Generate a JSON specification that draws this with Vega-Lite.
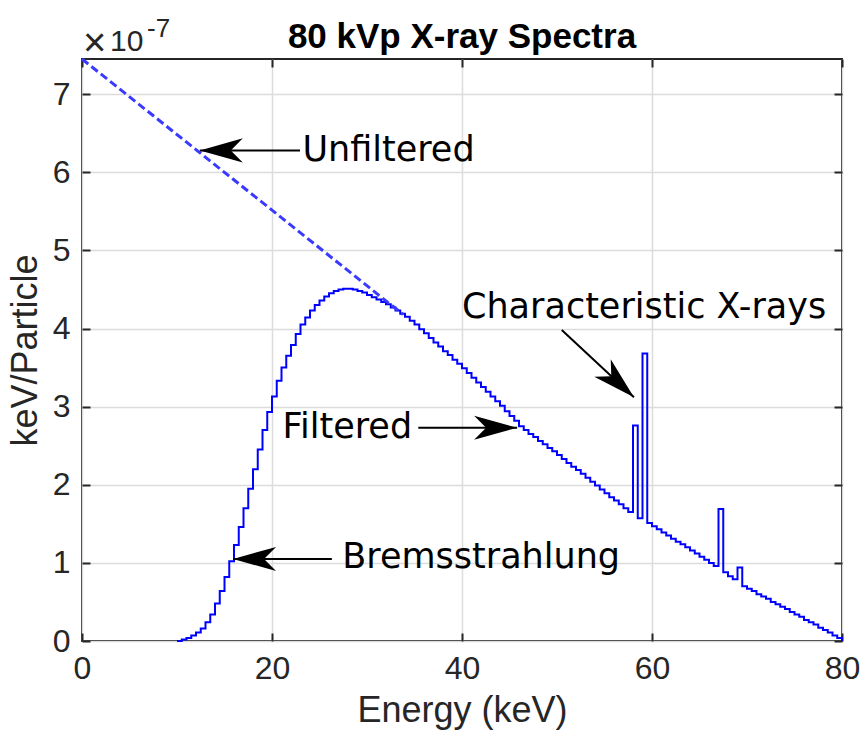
{
  "$schema": "https://vega.github.io/schema/vega-lite/v6.json",
  "width": 760,
  "height": 582,
  "autosize": {"type": "none"},
  "padding": {"left": 82, "top": 59, "right": 20, "bottom": 95},
  "background": "white",
  "config": {"view": {"stroke": "#262626", "strokeWidth": 2}, "font": "Liberation Sans"},
  "title": {"text": "80 kVp X-ray Spectra", "fontSize": 35, "fontWeight": "bold", "font": "Liberation Sans", "color": "#000000", "anchor": "middle", "frame": "group", "offset": -39},
  "datasets": {
    "filtered": [
      {"E":10.0,"v":0},{"E":10.5,"v":0.02},{"E":11.0,"v":0.04},{"E":11.5,"v":0.07},{"E":12.0,"v":0.11},{"E":12.5,"v":0.16},{"E":13.0,"v":0.24},{"E":13.5,"v":0.34},{"E":14.0,"v":0.48},{"E":14.5,"v":0.64},
      {"E":15.0,"v":0.82},{"E":15.5,"v":1.02},{"E":16.0,"v":1.23},{"E":16.5,"v":1.46},{"E":17.0,"v":1.70},{"E":17.5,"v":1.95},{"E":18.0,"v":2.20},{"E":18.5,"v":2.45},{"E":19.0,"v":2.70},{"E":19.5,"v":2.93},
      {"E":20.0,"v":3.13},{"E":20.5,"v":3.33},{"E":21.0,"v":3.50},{"E":21.5,"v":3.65},{"E":22.0,"v":3.79},{"E":22.5,"v":3.93},{"E":23.0,"v":4.05},{"E":23.5,"v":4.14},{"E":24.0,"v":4.23},{"E":24.5,"v":4.30},
      {"E":25.0,"v":4.36},{"E":25.5,"v":4.41},{"E":26.0,"v":4.45},{"E":26.5,"v":4.48},{"E":27.0,"v":4.50},{"E":27.5,"v":4.51},{"E":28.0,"v":4.51},{"E":28.5,"v":4.50},{"E":29.0,"v":4.48},{"E":29.5,"v":4.46},
      {"E":30.0,"v":4.43},{"E":30.5,"v":4.40},{"E":31.0,"v":4.37},{"E":31.5,"v":4.34},{"E":32.0,"v":4.31},{"E":32.5,"v":4.27},{"E":33.0,"v":4.23},{"E":33.5,"v":4.19},{"E":34.0,"v":4.15},{"E":34.5,"v":4.10},
      {"E":35.0,"v":4.05},{"E":35.5,"v":3.99},{"E":36.0,"v":3.94},{"E":36.5,"v":3.88},{"E":37.0,"v":3.82},{"E":37.5,"v":3.77},{"E":38.0,"v":3.71},{"E":38.5,"v":3.66},{"E":39.0,"v":3.60},{"E":39.5,"v":3.55},
      {"E":40.0,"v":3.49},{"E":40.5,"v":3.43},{"E":41.0,"v":3.37},{"E":41.5,"v":3.31},{"E":42.0,"v":3.25},{"E":42.5,"v":3.19},{"E":43.0,"v":3.13},{"E":43.5,"v":3.07},{"E":44.0,"v":3.01},{"E":44.5,"v":2.94},
      {"E":45.0,"v":2.88},{"E":45.5,"v":2.82},{"E":46.0,"v":2.75},{"E":46.5,"v":2.70},{"E":47.0,"v":2.65},{"E":47.5,"v":2.61},{"E":48.0,"v":2.56},{"E":48.5,"v":2.52},{"E":49.0,"v":2.47},{"E":49.5,"v":2.43},
      {"E":50.0,"v":2.38},{"E":50.5,"v":2.33},{"E":51.0,"v":2.28},{"E":51.5,"v":2.23},{"E":52.0,"v":2.19},{"E":52.5,"v":2.14},{"E":53.0,"v":2.09},{"E":53.5,"v":2.04},{"E":54.0,"v":1.99},{"E":54.5,"v":1.94},
      {"E":55.0,"v":1.89},{"E":55.5,"v":1.84},{"E":56.0,"v":1.80},{"E":56.5,"v":1.75},{"E":57.0,"v":1.70},{"E":57.5,"v":1.65},{"E":58.0,"v":2.76},{"E":58.5,"v":1.57},{"E":59.0,"v":3.68},{"E":59.5,"v":1.51},
      {"E":60.0,"v":1.47},{"E":60.5,"v":1.43},{"E":61.0,"v":1.39},{"E":61.5,"v":1.35},{"E":62.0,"v":1.31},{"E":62.5,"v":1.27},{"E":63.0,"v":1.24},{"E":63.5,"v":1.20},{"E":64.0,"v":1.16},{"E":64.5,"v":1.12},
      {"E":65.0,"v":1.08},{"E":65.5,"v":1.04},{"E":66.0,"v":1.00},{"E":66.5,"v":0.96},{"E":67.0,"v":1.69},{"E":67.5,"v":0.88},{"E":68.0,"v":0.83},{"E":68.5,"v":0.79},{"E":69.0,"v":0.94},{"E":69.5,"v":0.70},
      {"E":70.0,"v":0.67},{"E":70.5,"v":0.64},{"E":71.0,"v":0.60},{"E":71.5,"v":0.57},{"E":72.0,"v":0.54},{"E":72.5,"v":0.50},{"E":73.0,"v":0.47},{"E":73.5,"v":0.44},{"E":74.0,"v":0.41},{"E":74.5,"v":0.37},
      {"E":75.0,"v":0.34},{"E":75.5,"v":0.31},{"E":76.0,"v":0.27},{"E":76.5,"v":0.24},{"E":77.0,"v":0.21},{"E":77.5,"v":0.17},{"E":78.0,"v":0.14},{"E":78.5,"v":0.11},{"E":79.0,"v":0.07},{"E":79.5,"v":0.04},
      {"E":80.0,"v":0}
    ],
    "unfiltered": [{"E":0,"v":7.45},{"E":33.8,"v":4.18}],
    "arrows": [
      {"label":"Unfiltered","tailE":22.95,"tailV":6.28,"tipE":12.4,"tipV":6.28},
      {"label":"Filtered","tailE":35.4,"tailV":2.73,"tipE":45.8,"tipV":2.73},
      {"label":"Bremsstrahlung","tailE":26.3,"tailV":1.05,"tipE":15.9,"tipV":1.05},
      {"label":"Characteristic X-rays","tailE":50.5,"tailV":3.98,"tipE":58.1,"tipV":3.12}
    ],
    "notes": [
      {"label":"Unfiltered","E":23.2,"v":6.28},
      {"label":"Filtered","E":21.1,"v":2.74},
      {"label":"Bremsstrahlung","E":27.4,"v":1.07},
      {"label":"Characteristic X-rays","E":40.0,"v":4.27}
    ],
    "exponent": [{"times":"×","base":"10","power":"-7"}]
  },
  "layer": [
    {
      "data": {"name": "filtered"},
      "mark": {"type": "line", "interpolate": "step-after", "color": "#0000ff", "strokeWidth": 2},
      "encoding": {
        "x": {"field": "E", "type": "quantitative", "scale": {"domain": [0, 80], "nice": false, "zero": false},
          "axis": {"orient": "bottom", "values": [0, 20, 40, 60, 80], "title": "Energy (keV)", "grid": true, "gridColor": "#dcdcdc", "gridWidth": 1.5, "domain": false, "tickSize": -8, "tickWidth": 2, "tickColor": "#262626", "labelFontSize": 32, "labelColor": "#262626", "labelFont": "Liberation Sans", "labelPadding": 20, "labelFlush": false, "titleFontSize": 36, "titleFontWeight": "normal", "titleColor": "#262626", "titleFont": "Liberation Sans", "titlePadding": 9}},
        "y": {"field": "v", "type": "quantitative", "scale": {"domain": [0, 7.45], "nice": false, "zero": false},
          "axis": {"orient": "left", "values": [0, 1, 2, 3, 4, 5, 6, 7], "title": "keV/Particle", "grid": true, "gridColor": "#dcdcdc", "gridWidth": 1.5, "domain": false, "tickSize": -8, "tickWidth": 2, "tickColor": "#262626", "labelFontSize": 32, "labelColor": "#262626", "labelFont": "Liberation Sans", "labelPadding": 20, "labelFlush": false, "titleFontSize": 36, "titleFontWeight": "normal", "titleColor": "#262626", "titleFont": "Liberation Sans", "titlePadding": 8}}
      }
    },
    {
      "data": {"name": "unfiltered"},
      "mark": {"type": "line", "color": "#3a3aff", "strokeWidth": 3, "strokeDash": [8, 4]},
      "encoding": {
        "x": {"field": "E", "type": "quantitative", "scale": {"domain": [0, 80], "nice": false, "zero": false},
          "axis": {"orient": "top", "values": [0, 20, 40, 60, 80], "title": null, "labels": false, "grid": false, "domain": false, "tickSize": -8, "tickWidth": 2, "tickColor": "#262626"}},
        "y": {"field": "v", "type": "quantitative", "scale": {"domain": [0, 7.45], "nice": false, "zero": false},
          "axis": {"orient": "right", "values": [0, 1, 2, 3, 4, 5, 6, 7], "title": null, "labels": false, "grid": false, "domain": false, "tickSize": -8, "tickWidth": 2, "tickColor": "#262626"}}
      }
    },
    {
      "data": {"name": "arrows"},
      "mark": {"type": "rule", "color": "#000000", "strokeWidth": 2},
      "encoding": {
        "x": {"field": "tailE", "type": "quantitative", "scale": {"domain": [0, 80], "nice": false, "zero": false}, "axis": null},
        "y": {"field": "tailV", "type": "quantitative", "scale": {"domain": [0, 7.45], "nice": false, "zero": false}, "axis": null},
        "x2": {"field": "tipE"},
        "y2": {"field": "tipV"}
      }
    },
    {
      "data": {"name": "arrows"},
      "mark": {"type": "point", "shape": "M0,0L-1,-0.28L-0.72,0L-1,0.28Z", "filled": true, "color": "#000000", "opacity": 1, "size": 7396, "strokeWidth": 0},
      "encoding": {
        "x": {"field": "tipE", "type": "quantitative", "scale": {"domain": [0, 80], "nice": false, "zero": false}, "axis": null},
        "y": {"field": "tipV", "type": "quantitative", "scale": {"domain": [0, 7.45], "nice": false, "zero": false}, "axis": null},
        "angle": {"condition": [{"test": "datum.label === 'Filtered'", "value": 0}, {"test": "datum.label === 'Characteristic X-rays'", "value": 43}], "value": 180}
      }
    },
    {
      "data": {"name": "notes"},
      "mark": {"type": "text", "align": "left", "baseline": "middle", "font": "DejaVu Sans", "fontSize": 35, "color": "#000000"},
      "encoding": {
        "x": {"field": "E", "type": "quantitative", "scale": {"domain": [0, 80], "nice": false, "zero": false}, "axis": null},
        "y": {"field": "v", "type": "quantitative", "scale": {"domain": [0, 7.45], "nice": false, "zero": false}, "axis": null},
        "text": {"field": "label"}
      }
    },
    {
      "data": {"name": "exponent"},
      "mark": {"type": "text", "align": "left", "baseline": "alphabetic", "font": "Liberation Sans", "fontSize": 40, "color": "#262626", "dx": 1, "dy": -3},
      "encoding": {
        "x": {"datum": 0, "type": "quantitative", "scale": {"domain": [0, 80], "nice": false, "zero": false}, "axis": null},
        "y": {"datum": 7.45, "type": "quantitative", "scale": {"domain": [0, 7.45], "nice": false, "zero": false}, "axis": null},
        "text": {"field": "times"}
      }
    },
    {
      "data": {"name": "exponent"},
      "mark": {"type": "text", "align": "left", "baseline": "alphabetic", "font": "Liberation Sans", "fontSize": 30, "color": "#262626", "dx": 28, "dy": -8},
      "encoding": {
        "x": {"datum": 0, "type": "quantitative", "scale": {"domain": [0, 80], "nice": false, "zero": false}, "axis": null},
        "y": {"datum": 7.45, "type": "quantitative", "scale": {"domain": [0, 7.45], "nice": false, "zero": false}, "axis": null},
        "text": {"field": "base"}
      }
    },
    {
      "data": {"name": "exponent"},
      "mark": {"type": "text", "align": "left", "baseline": "alphabetic", "font": "Liberation Sans", "fontSize": 26, "color": "#262626", "dx": 65, "dy": -22},
      "encoding": {
        "x": {"datum": 0, "type": "quantitative", "scale": {"domain": [0, 80], "nice": false, "zero": false}, "axis": null},
        "y": {"datum": 7.45, "type": "quantitative", "scale": {"domain": [0, 7.45], "nice": false, "zero": false}, "axis": null},
        "text": {"field": "power"}
      }
    }
  ],
  "resolve": {"axis": {"x": "independent", "y": "independent"}}
}
